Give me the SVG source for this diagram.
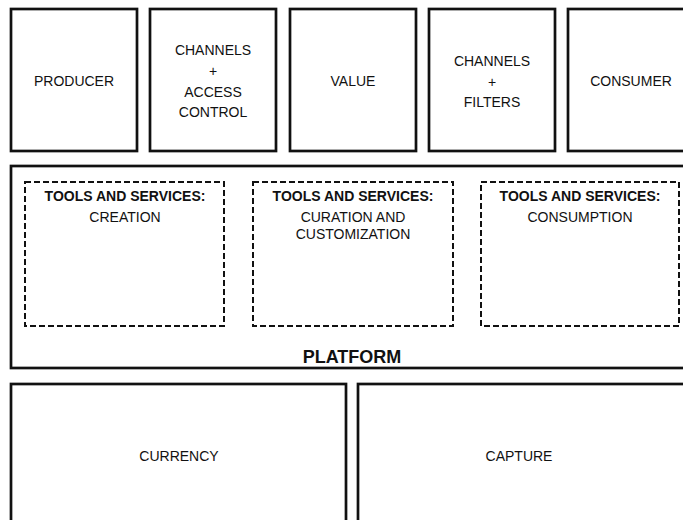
<svg xmlns="http://www.w3.org/2000/svg" width="683" height="520" viewBox="0 0 683 520">
  <style>
    .box { fill: #fff; stroke: #111; stroke-width: 2.7; }
    .tool { fill: none; stroke: #111; stroke-width: 2; stroke-dasharray: 6 3; }
    text { font-family: "Liberation Sans", Arial, sans-serif; font-size: 14px; fill: #111; text-anchor: middle; }
    .b { font-weight: bold; }
    .title { font-size: 18px; }
  </style>
  <rect width="683" height="520" fill="#fff"/>

  <!-- top row -->
  <g id="producer">
    <rect class="box" x="11" y="9" width="126" height="142"/>
    <text x="74" y="86">PRODUCER</text>
  </g>
  <g id="channels-access">
    <rect class="box" x="150" y="9" width="126" height="142"/>
    <text x="213" y="55">CHANNELS</text>
    <text x="213" y="76">+</text>
    <text x="213" y="97">ACCESS</text>
    <text x="213" y="117">CONTROL</text>
  </g>
  <g id="value">
    <rect class="box" x="290" y="9" width="126" height="142"/>
    <text x="353" y="86">VALUE</text>
  </g>
  <g id="channels-filters">
    <rect class="box" x="429" y="9" width="126" height="142"/>
    <text x="492" y="66">CHANNELS</text>
    <text x="492" y="87">+</text>
    <text x="492" y="107">FILTERS</text>
  </g>
  <g id="consumer">
    <rect class="box" x="568" y="9" width="126" height="142"/>
    <text x="631" y="86">CONSUMER</text>
  </g>

  <!-- platform -->
  <g id="platform">
    <rect class="box" x="11" y="166" width="690" height="202"/>
    <text class="b title" x="352" y="363">PLATFORM</text>
  </g>
  <g id="tools-creation">
    <rect class="tool" x="25" y="182" width="199" height="144"/>
    <text class="b" x="125" y="201">TOOLS AND SERVICES:</text>
    <text x="125" y="222">CREATION</text>
  </g>
  <g id="tools-curation">
    <rect class="tool" x="253" y="182" width="200" height="144"/>
    <text class="b" x="353" y="201">TOOLS AND SERVICES:</text>
    <text x="353" y="222">CURATION AND</text>
    <text x="353" y="239">CUSTOMIZATION</text>
  </g>
  <g id="tools-consumption">
    <rect class="tool" x="481" y="182" width="198" height="144"/>
    <text class="b" x="580" y="201">TOOLS AND SERVICES:</text>
    <text x="580" y="222">CONSUMPTION</text>
  </g>

  <!-- bottom row -->
  <g id="currency">
    <rect class="box" x="11" y="384" width="335" height="160"/>
    <text x="179" y="461">CURRENCY</text>
  </g>
  <g id="capture">
    <rect class="box" x="358" y="384" width="340" height="160"/>
    <text x="519" y="461">CAPTURE</text>
  </g>

  <g id="connectors"></g>
</svg>
